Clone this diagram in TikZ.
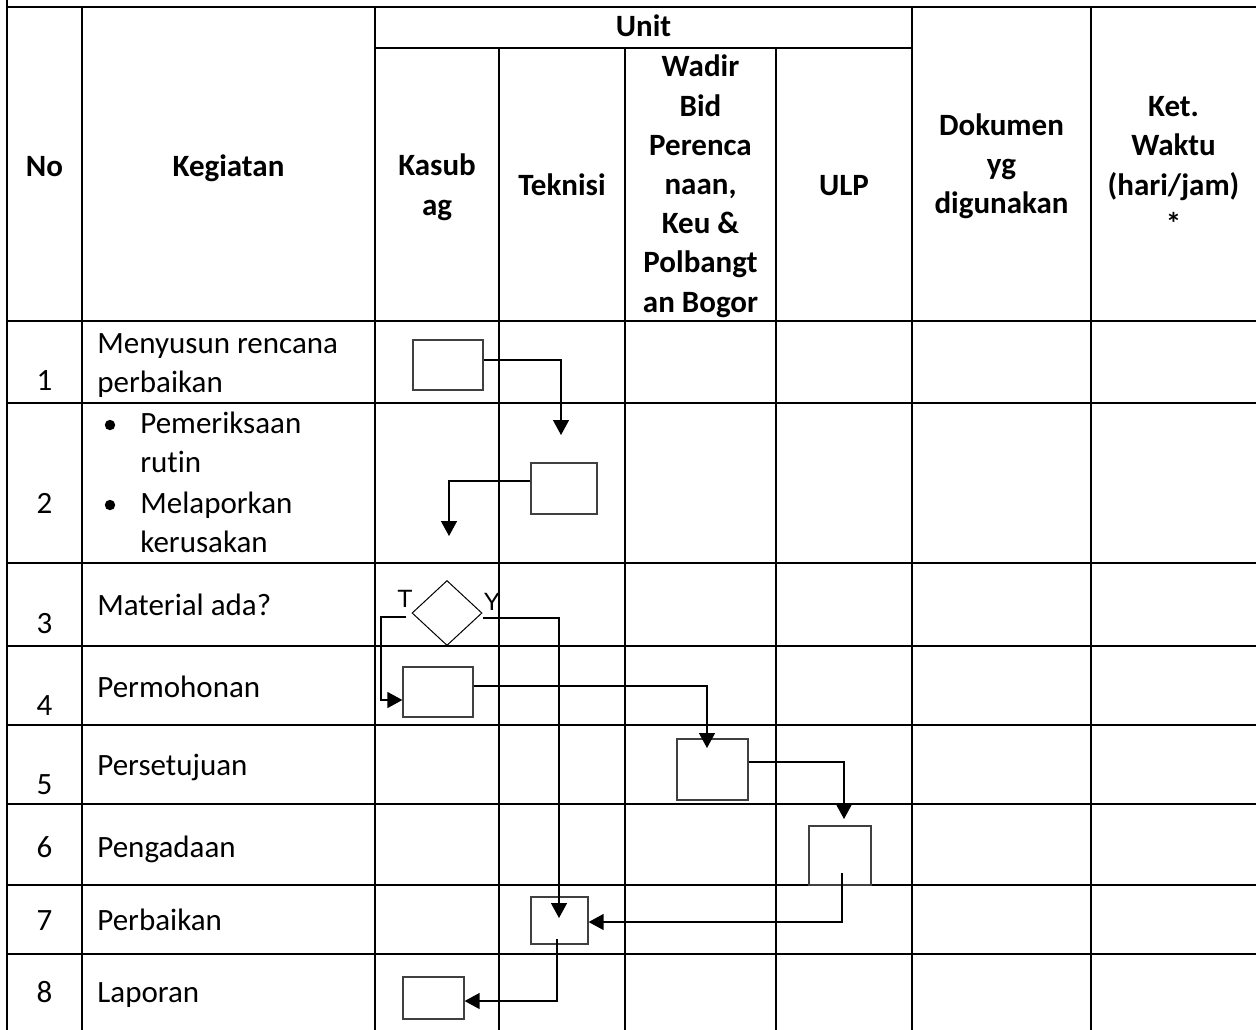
\documentclass[tikz,border=0pt]{standalone}
\usepackage{fontspec}
\setmainfont{Carlito}[Ligatures=NoCommon]
\newfontfamily\arialfont{Liberation Sans}
\usetikzlibrary{arrows.meta,shapes.geometric}
\begin{document}
\begin{tikzpicture}[x=0.5pt,y=-0.5pt,
  grid/.style={line width=1.4pt, line cap=rect},
  hdr/.style={font=\fontsize{15.5pt}{19.6pt}\selectfont\bfseries, align=center, inner sep=0pt},
  txt/.style={font=\fontsize{15.5pt}{19.6pt}\selectfont, inner sep=0pt},
  box/.style={draw=black!75, line width=0.6pt, rectangle, inner sep=0pt},
  conn/.style={draw=black, line width=0.65pt, -{Triangle[length=7.5pt,width=8pt]}},
  yt/.style={font=\arialfont\fontsize{12.5pt}{15pt}\selectfont, anchor=base, inner sep=0pt},
]
\useasboundingbox (0,0) rectangle (1256,1029);

% table grid
\draw[grid] (7,0) -- (7,1029);
\draw[grid] (7,7) -- (1256,7);
\draw[grid] (375,48) -- (912,48);
\foreach \y in {321,403,563,646,725,804,885,954} \draw[grid] (7,\y) -- (1256,\y);
\foreach \x in {82,375,912,1091} \draw[grid] (\x,7) -- (\x,1029);
\foreach \x in {499,625,776} \draw[grid] (\x,48) -- (\x,1029);

% header
\node[hdr] (hno) at (44.5,168.2) {\strut No};
\node[hdr] (hkeg) at (228.5,168.2) {\strut Kegiatan};
\node[hdr] (hunit) at (643.5,28.2) {\strut Unit};
\node[hdr] (hkas) at (437,187.7) {\strut Kasub\\\strut ag};
\node[hdr] (htek) at (562,187.2) {\strut Teknisi};
\node[hdr] (hwad) at (700.5,186.7) {\strut Wadir\\\strut Bid\\\strut Perenca\\\strut naan,\\\strut Keu \&\\\strut Polbangt\\\strut an Bogor};
\node[hdr] (hulp) at (844,187.2) {\strut ULP};
\node[hdr] (hdok) at (1001.5,166.5) {\strut Dokumen\\\strut yg\\\strut digunakan};
\node[hdr] (hket) at (1173.5,167.7) {\strut Ket.\\\strut Waktu\\\strut (hari/jam)\\\strut *};

% numbers
\node[txt, anchor=base] (n1) at (44.5,390) {1};
\node[txt, anchor=base] (n2) at (44.5,513) {2};
\node[txt, anchor=base] (n3) at (44.5,633) {3};
\node[txt, anchor=base] (n4) at (44.5,715) {4};
\node[txt, anchor=base] (n5) at (44.5,794) {5};
\node[txt, anchor=base] (n6) at (44.5,857) {6};
\node[txt, anchor=base] (n7) at (44.5,930) {7};
\node[txt, anchor=base] (n8) at (44.5,1002) {8};

% activities
\node[txt, align=left, anchor=north west] (k1) at (97,325.6) {\strut Menyusun rencana\\\strut perbaikan};
\fill (110,425) circle (2.6pt);
\node[txt, align=left, anchor=north west] (k2a) at (140,405.6) {\strut Pemeriksaan\\\strut rutin};
\fill (110,505) circle (2.6pt);
\node[txt, align=left, anchor=north west] (k2b) at (140,485.6) {\strut Melaporkan\\\strut kerusakan};
\node[txt, anchor=base west] (k3) at (97,615) {Material ada?};
\node[txt, anchor=base west] (k4) at (97,697) {Permohonan};
\node[txt, anchor=base west] (k5) at (97,775) {Persetujuan};
\node[txt, anchor=base west] (k6) at (97,857) {Pengadaan};
\node[txt, anchor=base west] (k7) at (97,930) {Perbaikan};
\node[txt, anchor=base west] (k8) at (97,1002) {Laporan};

% flow shapes
\node[box, minimum width=35pt, minimum height=25pt] (b1) at (448,365) {};
\node[box, minimum width=33pt, minimum height=25.5pt] (b2) at (564,488.5) {};
\node[diamond, draw=black, line width=0.5pt, inner sep=0pt, minimum width=35pt, minimum height=32.5pt] (d) at (447,613) {};
\node[box, minimum width=35pt, minimum height=25pt] (b4) at (438,692) {};
\node[box, minimum width=35.5pt, minimum height=30.5pt] (b5) at (712.5,769.5) {};
\node[box, minimum width=31pt, minimum height=29.5pt] (b6) at (840,855.5) {};
\node[box, minimum width=28.5pt, minimum height=23.5pt] (b7) at (559.5,920.5) {};
\node[box, minimum width=30.5pt, minimum height=21pt] (b8) at (433.5,998) {};

\node[yt] (lt) at (405,607) {T};
\node[yt] (ly) at (492,610) {Y};

% connectors
\coordinate (t1) at (561,435);
\coordinate (t2) at (449,536);
\coordinate (s3) at (406,617);
\coordinate (t7) at (559,918);
\coordinate (t5) at (707,748);
\coordinate (t6) at (844,819);
\coordinate (s6) at (842,873);
\coordinate (s7) at (557,939);

\draw[conn] (b1.east |- 0,360) -| (t1);
\draw[conn] (b2.west |- 0,481) -| (t2);
\draw[conn] (s3) -| (381,700) -- (b4.west |- 0,700);
\draw[conn] (d.east |- 0,618) -| (t7);
\draw[conn] (b4.east |- 0,686) -| (t5);
\draw[conn] (b5.east |- 0,762) -| (t6);
\draw[conn] (s6) |- (b7.east |- 0,922);
\draw[conn] (s7) |- (b8.east |- 0,1001);
\end{tikzpicture}
\end{document}
